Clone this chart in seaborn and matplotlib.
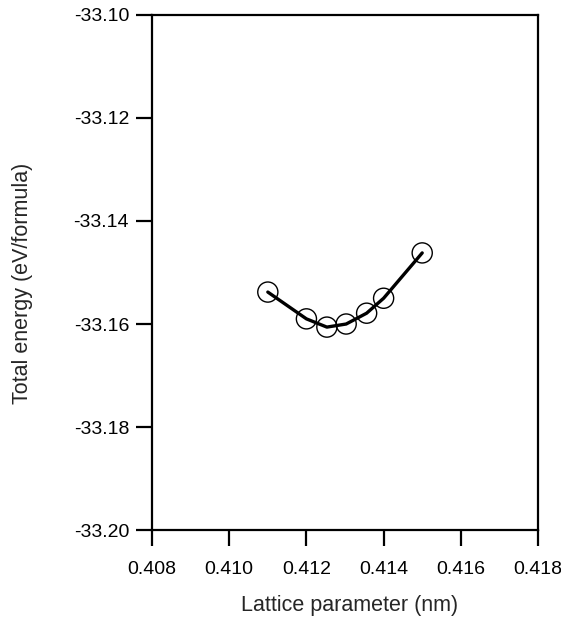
import numpy as np
import pandas as pd
import seaborn as sns
import matplotlib
matplotlib.use("Agg")
import matplotlib.pyplot as plt

# lattice parameter (nm) vs total energy (eV/formula)
lattice = [0.4110, 0.4120, 0.41253, 0.41303, 0.41356, 0.4140, 0.4150]
energy = [-33.1538, -33.1590, -33.1606, -33.1600, -33.1579, -33.1550, -33.1462]

df = pd.DataFrame({"a": lattice, "E": energy})

sns.set_style("ticks")
plt.rcParams['font.family'] = ['Liberation Sans', 'DejaVu Sans']

fig = plt.figure(figsize=(5.61, 6.2), dpi=100)
ax = fig.add_axes([0.271, 0.145, 0.688, 0.831])

sns.lineplot(data=df, x="a", y="E", ax=ax, color="black", linewidth=2.4, sort=True)
sns.scatterplot(data=df, x="a", y="E", ax=ax, s=210, facecolor="none",
                edgecolor="black", linewidth=1.0, zorder=3)

ax.set_xlim(0.408, 0.418)
ax.set_ylim(-33.20, -33.10)
ax.set_xticks(np.arange(0.408, 0.4181, 0.002))
ax.set_yticks(np.arange(-33.20, -33.099, 0.02))
ax.xaxis.set_major_formatter(matplotlib.ticker.FormatStrFormatter('%.3f'))
ax.yaxis.set_major_formatter(matplotlib.ticker.FormatStrFormatter('%.2f'))

for sp in ax.spines.values():
    sp.set_visible(True)
    sp.set_linewidth(1.6)
    sp.set_color("black")
ax.tick_params(direction="out", length=11.5, width=1.6, labelsize=14, pad=5, colors="black")
ax.tick_params(axis="x", pad=11)

ax.set_xlabel("Lattice parameter (nm)", fontsize=15.5)
ax.set_ylabel("Total energy (eV/formula)", fontsize=15.5)
ax.xaxis.set_label_coords(0.513, -0.125)
ax.yaxis.set_label_coords(-0.308, 0.478)

fig.savefig("out.png", dpi=100)
